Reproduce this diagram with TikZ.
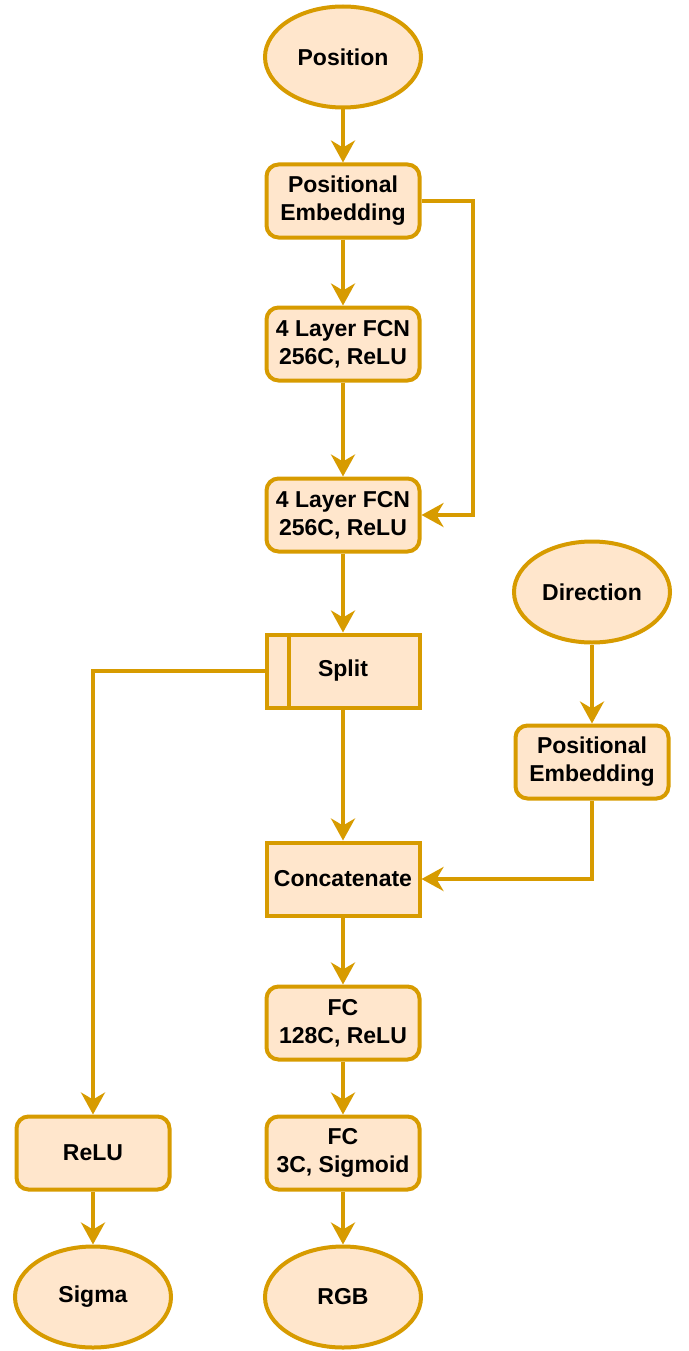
\documentclass[tikz,border=0pt]{standalone}
\usepackage{fontspec}
\setmainfont{Liberation Sans}
\usepackage{tikz}
\usetikzlibrary{shapes.geometric,arrows.meta}
\definecolor{boxfill}{HTML}{FFE6CC}
\definecolor{boxline}{HTML}{D79B00}

\begin{document}
\begin{tikzpicture}[x=1pt, y=-1pt,
		every node/.style={font=\fontsize{23}{28}\selectfont\bfseries, align=center},
		block/.style={draw=boxline, fill=boxfill, line width=4pt, rounded corners=12pt, minimum width=153pt, minimum height=73pt, inner sep=0pt},
		plain/.style={block, rounded corners=0pt},
		term/.style={ellipse, draw=boxline, fill=boxfill, line width=4pt, minimum width=156pt, minimum height=101pt, inner sep=0pt},
		flow/.style={draw=boxline, line width=4pt, -{Stealth[length=22pt, width=24pt, inset=7pt]}}]

		\useasboundingbox (0,0) rectangle (688,1351);

		% main column
		\node[term]  (pos)    at (343,57)   {Position};
		\node[block] (pe1)    at (343,201)  {Positional\\Embedding};
		\node[block] (fcn1)   at (343,344)  {4 Layer FCN\\256C, ReLU};
		\node[block] (fcn2)   at (343,515)  {4 Layer FCN\\256C, ReLU};
		\node[plain] (split)  at (343,671)  {Split};
		\node[plain] (concat) at (343,879)  {Concatenate};
		\node[block] (fc1)    at (343,1023) {FC\\128C, ReLU};
		\node[block] (fc2)    at (343,1153) {FC\\3C, Sigmoid};
		\node[term]  (rgb)    at (343,1297) {RGB};

		% side branches
		\node[block] (relu)   at (93,1153)  {ReLU};
		\node[term]  (sigma)  at (93,1297)  {Sigma};
		\node[term]  (dir)    at (592,592)  {Direction};
		\node[block] (pe2)    at (592,762)  {Positional\\Embedding};

		\draw[boxline, line width=4pt] ([xshift=24pt]split.north west) -- ([xshift=24pt]split.south west);
		\coordinate (bypass) at (473,0);

		\draw[flow] (pos) -- (pe1);
		\draw[flow] (pe1) -- (fcn1);
		\draw[flow] (fcn1) -- (fcn2);
		\draw[flow] (pe1.east) -- (pe1.east -| bypass) |- (fcn2.east);
		\draw[flow] (fcn2) -- (split);
		\draw[flow] (split) -- (concat);
		\draw[flow] (split.west) -| (relu.north);
		\draw[flow] (dir) -- (pe2);
		\draw[flow] (pe2.south) |- (concat.east);
		\draw[flow] (concat) -- (fc1);
		\draw[flow] (fc1) -- (fc2);
		\draw[flow] (fc2) -- (rgb);
		\draw[flow] (relu) -- (sigma);
	\end{tikzpicture}
\end{document}
